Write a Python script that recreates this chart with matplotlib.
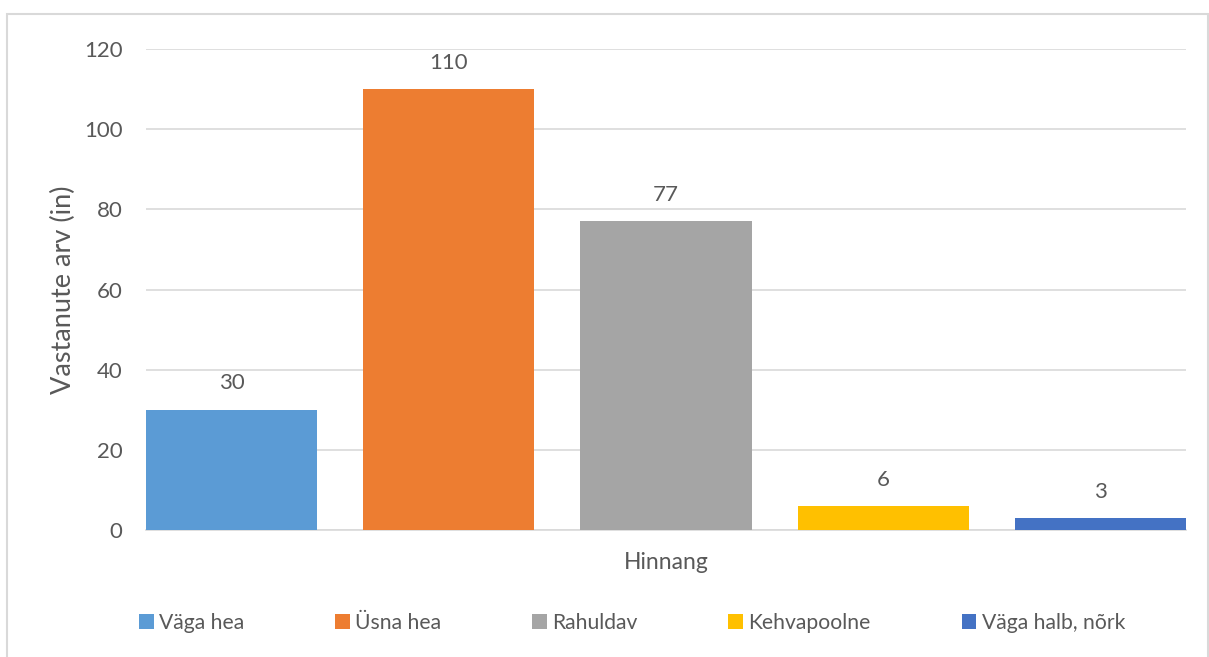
import matplotlib
matplotlib.use("Agg")
import matplotlib.pyplot as plt
from matplotlib.patches import Rectangle, Patch

categories = ["Väga hea", "Üsna hea", "Rahuldav", "Kehvapoolne", "Väga halb, nõrk"]
values = [30, 110, 77, 6, 3]
colors = ["#5B9BD5", "#ED7D31", "#A5A5A5", "#FFC000", "#4472C4"]
yticks = [0, 20, 40, 60, 80, 100, 120]

plt.rcParams['font.family'] = ['Lato', 'DejaVu Sans']
txt = "#595959"
fs = 16

W, H = 1209, 657
fig = plt.figure(figsize=(W/100, H/100), dpi=100)
ax = fig.add_axes([146/W, 1-530/H, (1186-146)/W, (530-49)/H])

bw = 171/217
xs = list(range(len(values)))
ax.bar(xs, values, width=bw, color=colors, zorder=3)
for x, v in zip(xs, values):
    ax.annotate(str(v), (x, v), xytext=(0, 19), textcoords="offset points",
                ha="center", va="center", fontsize=fs, color=txt)

ax.set_xlim(-bw/2, len(values)-1+bw/2)
ax.set_ylim(0, 120)
ax.set_yticks(yticks)
ax.set_xticks([])
ax.grid(axis="y", color="#D9D9D9", linewidth=1.2, zorder=0)
for s in ["left", "right", "top"]:
    ax.spines[s].set_visible(False)
ax.spines["bottom"].set_color("#D9D9D9")
ax.spines["bottom"].set_linewidth(1.2)
ax.tick_params(axis="y", length=0, pad=17, labelsize=fs, labelcolor=txt)
ax.set_xlabel("Hinnang", fontsize=16.5, color=txt, labelpad=16)
ax.set_ylabel("Vastanute arv (in)", fontsize=19.5, color=txt)
ax.yaxis.set_label_coords((63-146)/1040, 0.5)
ax.yaxis.label.set_va("center")

handles = [Patch(facecolor=c, edgecolor="none", label=l) for c, l in zip(colors, categories)]
fig.legend(handles=handles, ncol=5, loc="center", bbox_to_anchor=(632/W, 1-623/H),
           frameon=False, fontsize=15.2, labelcolor=txt, handlelength=0.7,
           handleheight=0.7, handletextpad=0.25, columnspacing=4.3)

fig.patches.append(Rectangle((7/W, -0.01), (1208-7)/W, 1.01-14/H, transform=fig.transFigure,
                             fill=False, edgecolor="#D9D9D9", linewidth=1.5))

fig.savefig("out.png", dpi=100)
